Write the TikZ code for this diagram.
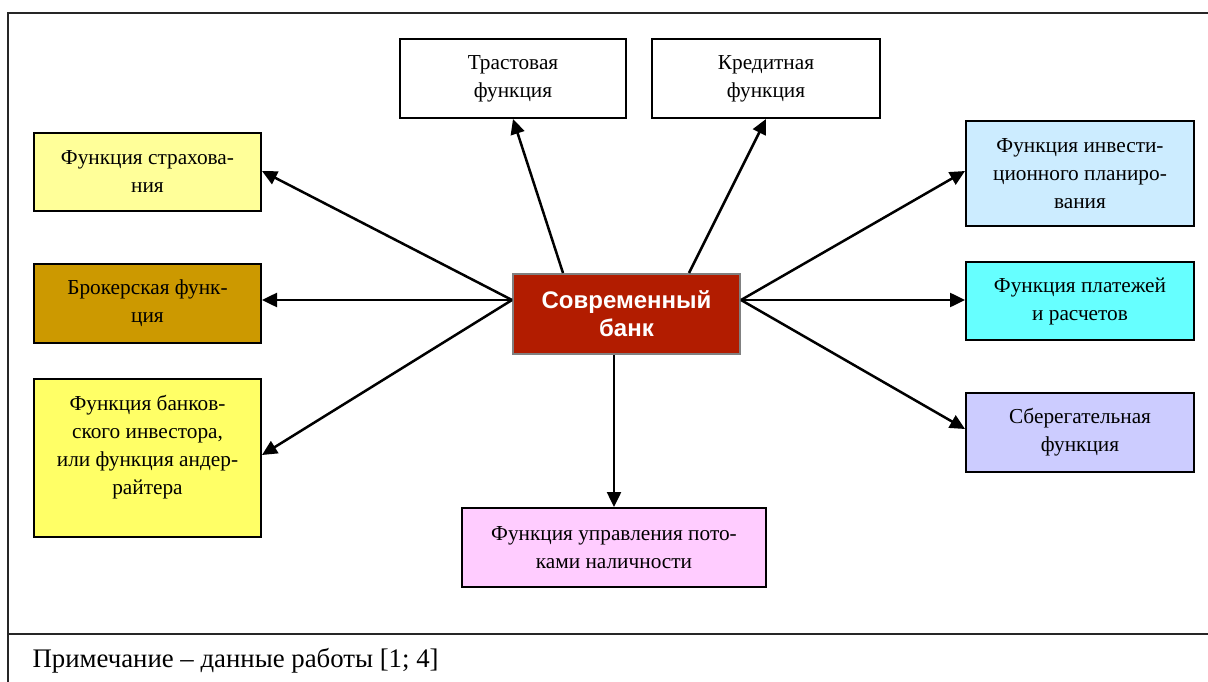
\documentclass[tikz,border=0pt]{standalone}
\usepackage{fontspec}
\setmainfont{Liberation Serif}
\newfontfamily\arialbold[BoldFont={Liberation Sans Bold}]{Liberation Sans}
\usetikzlibrary{arrows.meta}
\definecolor{cinsur}{HTML}{FFFF99}
\definecolor{cbroker}{HTML}{CC9900}
\definecolor{cbankinv}{HTML}{FFFF66}
\definecolor{cinvest}{HTML}{CCECFF}
\definecolor{cpay}{HTML}{66FFFF}
\definecolor{csave}{HTML}{CCCCFF}
\definecolor{ccash}{HTML}{FFCCFF}
\definecolor{ccenter}{HTML}{B21C00}
\tikzset{
  fbox/.style={draw=black, line width=2pt, align=center, inner sep=0pt,
    font=\fontsize{21.3}{28}\selectfont},
  centerbox/.style={draw=gray, line width=2pt, fill=ccenter, align=center,
    text=white, font=\arialbold\bfseries\fontsize{24}{28}\selectfont, inner sep=0pt},
  link/.style={line width=2.5pt, -{Triangle[length=15pt,width=14pt]}},
  frameline/.style={line width=2pt, draw=black!85}
}
\begin{document}
\begin{tikzpicture}[x=1pt,y=-1pt]
\useasboundingbox (0,0) rectangle (1208,682);
% frame
\draw[frameline] (8,682) -- (8,13) -- (1208,13);
\draw[frameline] (8,634) -- (1208,634);
\node[anchor=west, font=\fontsize{26.8}{30}\selectfont] (note) at (29,661) {Примечание – данные работы [1; 4]};
% boxes
\node[fbox, minimum width=226pt, minimum height=79pt] (trust) at (513,78.5) {Трастовая\\функция};
\node[fbox, minimum width=228pt, minimum height=79pt] (credit) at (766,78.5) {Кредитная\\функция};
\node[fbox, fill=cinsur, minimum width=227pt, minimum height=78pt] (insur) at (147.5,172) {Функция страхова-\\ния};
\node[fbox, fill=cbroker, minimum width=227pt, minimum height=79pt] (broker) at (147.5,303.5) {Брокерская функ-\\ция};
\node[fbox, fill=cbankinv, minimum width=227pt, minimum height=158pt] (bankinv) at (147.5,458) {};
\node[align=center, inner sep=0pt, font=\fontsize{21.3}{28}\selectfont] (bankinvtext) at (147.5,447) {Функция банков-\\ского инвестора,\\или функция андер-\\райтера};
\node[fbox, fill=cinvest, minimum width=228pt, minimum height=105pt] (invest) at (1080,173.5) {Функция инвести-\\ционного планиро-\\вания};
\node[fbox, fill=cpay, minimum width=228pt, minimum height=78pt] (pay) at (1080,301) {Функция платежей\\и расчетов};
\node[fbox, fill=csave, minimum width=228pt, minimum height=79pt] (save) at (1080,432.5) {Сберегательная\\функция};
\node[fbox, fill=ccash, minimum width=304pt, minimum height=79pt] (cash) at (614,547.5) {Функция управления пото-\\ками наличности};
\node[centerbox, minimum width=227pt, minimum height=80pt] (center) at (626.5,314) {Современный\\банк};
% connectors
\coordinate (cl) at ([yshift=14pt]center.west);
\coordinate (cr) at ([yshift=14pt]center.east);
\draw[link] ([xshift=51pt]center.north west) -- (trust.south);
\draw[link] ([xshift=177pt]center.north west) -- (credit.south);
\draw[link] (cl) -- ([yshift=1pt]insur.east);
\draw[link] (cl) -- (cl -| broker.east);
\draw[link] (cl) -- ([yshift=3pt]bankinv.east);
\draw[link] (cr) -- ([yshift=2.5pt]invest.west);
\draw[link] (cr) -- (cr -| pay.west);
\draw[link] (cr) -- ([yshift=3.5pt]save.west);
\draw[link] (center.south -| cash.north) -- (cash.north);
\end{tikzpicture}
\end{document}
